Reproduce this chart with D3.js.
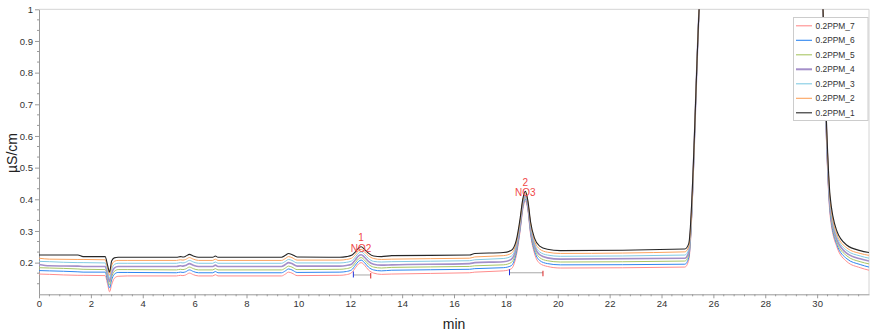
<!DOCTYPE html>
<html>
<head>
<meta charset="utf-8">
<script src="https://cdn.jsdelivr.net/npm/d3@7"></script>
<style>
  html, body { margin: 0; padding: 0; background: #fff; }
  svg { display: block; font-family: "Liberation Sans", Arial, sans-serif; }
</style>
</head>
<body>
<svg id="chart" width="876" height="331"></svg>
<script>
// Retention time (min), shared by every trace
const minutes = [
  0, 0.4, 1.5, 1.7, 2.55, 2.65, 2.72, 2.8, 2.9, 3.05,
  3.4, 5.3, 5.45, 5.55, 5.65, 5.8, 5.95, 6.15, 6.7, 6.8,
  6.9, 9.35, 9.5, 9.62, 9.75, 9.95, 11.6, 11.85, 12.05, 12.2,
  12.32, 12.42, 12.55, 12.7, 12.9, 13.2, 13.6, 16.6, 16.8, 17.9,
  18.2, 18.4, 18.55, 18.65, 18.75, 18.85, 18.95, 19.1, 19.3, 19.6,
  20.1, 24.9, 25.05, 25.45, 25.6, 30.1, 30.22, 30.37, 30.5, 30.76,
  31.15, 31.66, 32
];

// Conductivity (µS/cm) for each injection
const ppm_1 = [
  0.224,0.224,0.224,0.219,0.219,0.19,0.17,0.205,0.215,0.217,
  0.217,0.217,0.219,0.218,0.22,0.226,0.221,0.217,0.217,0.221,
  0.217,0.217,0.223,0.229,0.226,0.218,0.217,0.219,0.223,0.234,
  0.246,0.25,0.242,0.23,0.221,0.219,0.222,0.224,0.229,0.232,
  0.238,0.27,0.34,0.4,0.425,0.395,0.33,0.278,0.252,0.242,
  0.238,0.243,0.26,1.0,1.25,1.25,1.02,0.62,0.41,0.3,
  0.255,0.238,0.232
];
const ppm_2 = [
  0.214,0.211,0.21,0.21,0.209,0.18,0.16,0.19,0.204,0.207,
  0.207,0.207,0.209,0.208,0.21,0.216,0.211,0.207,0.207,0.211,
  0.207,0.207,0.213,0.219,0.216,0.208,0.208,0.21,0.214,0.226,
  0.238,0.242,0.234,0.222,0.213,0.21,0.211,0.214,0.218,0.222,
  0.229,0.262,0.333,0.395,0.42,0.39,0.325,0.27,0.243,0.233,
  0.229,0.234,0.25,1.0,1.25,1.25,1.02,0.61,0.4,0.29,
  0.246,0.229,0.223
];
const ppm_3 = [
  0.204,0.203,0.2,0.2,0.199,0.17,0.15,0.178,0.194,0.198,
  0.198,0.198,0.2,0.199,0.201,0.207,0.202,0.198,0.198,0.202,
  0.198,0.198,0.204,0.21,0.207,0.199,0.199,0.201,0.205,0.218,
  0.23,0.234,0.226,0.213,0.204,0.202,0.203,0.206,0.209,0.213,
  0.22,0.254,0.327,0.39,0.415,0.385,0.318,0.262,0.234,0.224,
  0.22,0.224,0.242,1.0,1.25,1.25,1.02,0.6,0.39,0.282,
  0.238,0.221,0.214
];
const ppm_4 = [
  0.194,0.19,0.189,0.188,0.188,0.16,0.14,0.166,0.183,0.188,
  0.188,0.188,0.19,0.189,0.191,0.197,0.192,0.188,0.188,0.192,
  0.188,0.188,0.194,0.2,0.197,0.189,0.189,0.191,0.195,0.209,
  0.221,0.225,0.217,0.204,0.195,0.192,0.193,0.197,0.2,0.203,
  0.21,0.246,0.32,0.385,0.41,0.38,0.31,0.254,0.225,0.215,
  0.211,0.214,0.233,1.0,1.25,1.25,1.02,0.59,0.38,0.273,
  0.229,0.212,0.205
];
const ppm_5 = [
  0.184,0.183,0.18,0.179,0.178,0.15,0.13,0.155,0.172,0.178,
  0.178,0.177,0.179,0.178,0.18,0.186,0.181,0.177,0.177,0.181,
  0.177,0.177,0.183,0.189,0.186,0.178,0.179,0.181,0.186,0.2,
  0.212,0.216,0.208,0.195,0.186,0.183,0.185,0.188,0.19,0.193,
  0.2,0.238,0.313,0.378,0.405,0.375,0.303,0.246,0.216,0.206,
  0.202,0.205,0.225,1.0,1.25,1.25,1.02,0.58,0.37,0.265,
  0.221,0.203,0.196
];
const ppm_6 = [
  0.175,0.174,0.171,0.17,0.17,0.14,0.12,0.145,0.163,0.169,
  0.169,0.168,0.17,0.169,0.171,0.177,0.172,0.168,0.168,0.172,
  0.168,0.168,0.174,0.18,0.177,0.169,0.17,0.172,0.177,0.192,
  0.204,0.208,0.2,0.186,0.177,0.174,0.176,0.179,0.181,0.184,
  0.19,0.23,0.306,0.372,0.4,0.37,0.296,0.238,0.207,0.197,
  0.193,0.195,0.216,1.0,1.25,1.25,1.02,0.57,0.36,0.257,
  0.212,0.194,0.186
];
const ppm_7 = [
  0.164,0.163,0.16,0.16,0.159,0.13,0.108,0.13,0.15,0.157,
  0.158,0.158,0.16,0.159,0.161,0.167,0.162,0.158,0.158,0.162,
  0.158,0.158,0.164,0.17,0.167,0.159,0.16,0.162,0.168,0.184,
  0.196,0.2,0.192,0.177,0.167,0.163,0.164,0.168,0.17,0.174,
  0.18,0.222,0.3,0.366,0.395,0.365,0.29,0.23,0.198,0.188,
  0.183,0.186,0.208,1.0,1.25,1.25,1.02,0.56,0.35,0.25,
  0.203,0.184,0.176
];

// Traces in legend order (top to bottom)
const seriesNames = ["0.2PPM_7", "0.2PPM_6", "0.2PPM_5", "0.2PPM_4", "0.2PPM_3", "0.2PPM_2", "0.2PPM_1"];
const seriesValues = [ppm_7, ppm_6, ppm_5, ppm_4, ppm_3, ppm_2, ppm_1];
const seriesColors = ["#ff8c8c", "#2f86f0", "#a9c664", "#a48fc9", "#82cbe3", "#fca35e", "#262626"];
const seriesWidths = [1, 1, 1, 1.6, 1, 1, 1.1];

// Axis ticks
const xTicks = [0, 2, 4, 6, 8, 10, 12, 14, 16, 18, 20, 22, 24, 26, 28, 30];
const yTicks = [0.2, 0.3, 0.4, 0.5, 0.6, 0.7, 0.8, 0.9, 1];

// Identified peaks: number, name, apex time and apex level of the top trace
const peakNumbers = ["1", "2"];
const peakNames = ["NO2", "NO3"];
const peakTimes = [12.42, 18.75];
const peakApex = [0.25, 0.425];
// Integration limits (start, end, baseline level)
const integStart = [12.12, 18.14];
const integEnd = [12.79, 19.43];
const integLevel = [0.161, 0.168];

const svg = d3.select("#chart");
const margin = { left: 39, top: 9.3, right: 7, bottom: 36.7 };
const W = 876, H = 331;
const x = d3.scaleLinear().domain([0, 32]).range([margin.left, W - margin.right]);
const y = d3.scaleLinear().domain([0.1, 1]).range([H - margin.bottom, margin.top]);

// Plot frame (top / right)
svg.append("path")
  .attr("d", `M${x(0)},${y(1)}H${x(32)}V${y(0.1)}`)
  .attr("fill", "none").attr("stroke", "#d4d4d4").attr("stroke-width", 1);

svg.append("defs").append("clipPath").attr("id", "plotClip")
  .append("rect")
  .attr("x", x(0)).attr("y", y(1))
  .attr("width", x(32) - x(0)).attr("height", y(0.1) - y(1));

// Minor ticks
const xMinor = d3.range(0, 32.01, 0.4).filter(v => Math.abs(v / 2 - Math.round(v / 2)) > 1e-6);
const yMinor = d3.range(0, 28).map(i => 0.1 + i / 30).filter(v => v <= 1.0001 && Math.abs(v * 10 - Math.round(v * 10)) > 1e-6);

const axisColor = "#9a9a9a";
const gx = svg.append("g").attr("transform", `translate(0,${y(0.1)})`)
  .call(d3.axisBottom(x).tickValues(xTicks).tickFormat(d3.format("d")).tickSize(4).tickSizeOuter(0));
gx.selectAll(".minor").data(xMinor).enter().append("line")
  .attr("x1", d => x(d)).attr("x2", d => x(d)).attr("y1", 0).attr("y2", 2)
  .attr("stroke", axisColor);

const gy = svg.append("g").attr("transform", `translate(${x(0)},0)`)
  .call(d3.axisLeft(y).tickValues(yTicks).tickFormat(d => String(+d.toFixed(1))).tickSize(4).tickSizeOuter(0));
gy.selectAll(".minor").data(yMinor).enter().append("line")
  .attr("x1", 0).attr("x2", -2).attr("y1", d => y(d)).attr("y2", d => y(d))
  .attr("stroke", axisColor);

[gx, gy].forEach(g => {
  g.select(".domain").attr("stroke", axisColor);
  g.selectAll(".tick line").attr("stroke", axisColor);
  g.selectAll(".tick text").attr("fill", "#333").attr("font-size", "9.5px")
    .attr("font-family", "'Liberation Sans', Arial, sans-serif");
});
gx.selectAll(".tick text").attr("dy", "0.95em").attr("y", 4);
gy.selectAll(".tick text").attr("x", -6);

// Axis titles
svg.append("text").attr("x", 454).attr("y", 329)
  .attr("text-anchor", "middle").attr("font-size", "14px").attr("fill", "#222")
  .text("min");
svg.append("text").attr("transform", "translate(16.5,153) rotate(-90)")
  .attr("text-anchor", "middle").attr("font-size", "14px").attr("fill", "#222")
  .text("µS/cm");

// Traces
const line = d3.line().curve(d3.curveMonotoneX).x(d => x(d[0])).y(d => y(d[1]));
const traces = svg.append("g").attr("clip-path", "url(#plotClip)");
seriesValues.forEach((vals, i) => {
  traces.append("path")
    .datum(minutes.map((t, k) => [t, vals[k]]))
    .attr("d", line)
    .attr("fill", "none")
    .attr("stroke", seriesColors[i])
    .attr("stroke-width", seriesWidths[i])
    .attr("stroke-linejoin", "round");
});

// Integration baselines and limit marks
integStart.forEach((s, i) => {
  const e = integEnd[i], lv = integLevel[i];
  svg.append("line")
    .attr("x1", x(s)).attr("x2", x(e)).attr("y1", y(lv)).attr("y2", y(lv))
    .attr("stroke", "#a8a8a8").attr("stroke-width", 1);
  svg.append("line")
    .attr("x1", x(s)).attr("x2", x(s)).attr("y1", y(lv) - 3.5).attr("y2", y(lv) + 2.5)
    .attr("stroke", "#2233dd").attr("stroke-width", 1);
  svg.append("line")
    .attr("x1", x(e)).attr("x2", x(e)).attr("y1", y(lv) - 2).attr("y2", y(lv) + 3.5)
    .attr("stroke", "#dd2222").attr("stroke-width", 1);
});

// Peak labels
peakTimes.forEach((t, i) => {
  const px = x(t), py = y(peakApex[i]);
  svg.append("text").attr("x", px).attr("y", py - 5.5)
    .attr("text-anchor", "middle").attr("font-size", "10px").attr("fill", "#f04848")
    .text(peakNumbers[i]);
  svg.append("text").attr("x", px).attr("y", py + 5)
    .attr("text-anchor", "middle").attr("font-size", "10px").attr("fill", "#f04848")
    .text(peakNames[i]);
});

// Legend
const lg = svg.append("g").attr("transform", "translate(793.5,17.5)");
lg.append("rect").attr("width", 74.5).attr("height", 103)
  .attr("fill", "#fff").attr("stroke", "#cccccc");
seriesNames.forEach((name, i) => {
  const ry = 8.3 + i * 14.5;
  lg.append("line").attr("x1", 2.5).attr("x2", 18.5).attr("y1", ry).attr("y2", ry)
    .attr("stroke", seriesColors[i]).attr("stroke-width", seriesWidths[i] > 1.2 ? 2 : 1.1);
  lg.append("text").attr("x", 22).attr("y", ry + 3)
    .attr("font-size", "8.4px").attr("fill", "#333").text(name);
});
</script>
</body>
</html>
